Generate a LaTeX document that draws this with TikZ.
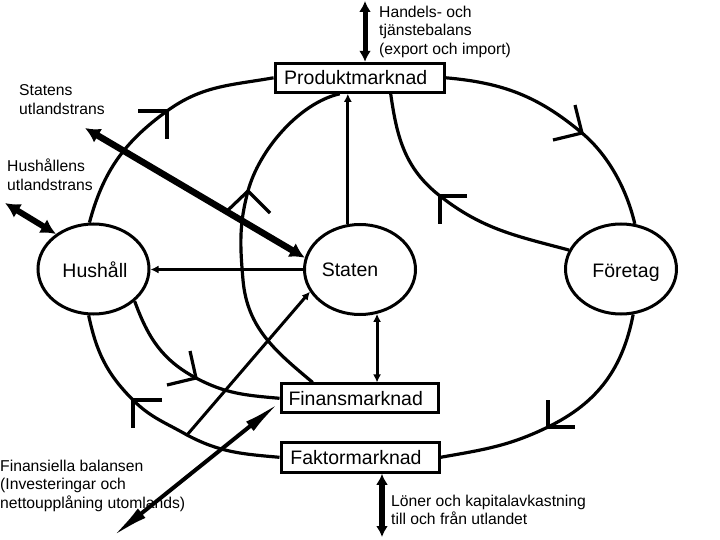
\documentclass[tikz,border=0pt]{standalone}
\usepackage{fontspec}
\setmainfont{Liberation Sans}
\usetikzlibrary{shapes.geometric,arrows.meta,calc}
\begin{document}
\begin{tikzpicture}[x=1pt,y=1pt,
  box/.style={draw, line width=3pt, rectangle, minimum width=169.3pt, minimum height=29pt,
    inner sep=0pt, font={\fontsize{19.5pt}{23pt}\selectfont}, execute at end node={\hspace*{8pt}}},
  ell/.style={draw, line width=3pt, ellipse, minimum width=111pt, minimum height=90pt, inner sep=0pt},
  lbl/.style={inner sep=0pt, font={\fontsize{19.5pt}{23pt}\selectfont}, text height=14pt, text depth=0pt},
  note/.style={inner sep=0pt, anchor=north west, align=left, font={\fontsize{15.7pt}{18.7pt}\selectfont}},
  flow/.style={line width=3.2pt},
  barb/.style={line width=3.2pt},
  sarrow/.style={line width=3pt, -{Latex[length=8pt,width=8pt]}},
  darrow/.style={line width=3pt, {Latex[length=8pt,width=8pt]}-{Latex[length=8pt,width=8pt]}},
  bigarrow/.style={line width=6.5pt, {Latex[length=15pt,width=16pt]}-{Latex[length=15pt,width=16pt]}},
  midarrow/.style={line width=5pt, {Latex[length=11pt,width=12pt]}-{Latex[length=11pt,width=12pt]}},
  longarrow/.style={line width=4pt, {Latex[length=38pt,width=12pt]}-{Latex[length=38pt,width=12pt]}}
]
\useasboundingbox (0,-540) rectangle (720,0);

% markets
\node[box] (pm) at (359.7,-77.8) {Produktmarknad};
\node[box, minimum width=157.3pt, minimum height=28.7pt] (fm) at (359.7,-398.3) {Finansmarknad};
\node[box, minimum width=158pt, minimum height=30pt] (fk) at (360,-457.3) {Faktormarknad};

% sectors
\node[ell] (hh) at (93.5,-269) {};
\node[ell] (st) at (360,-269.5) {};
\node[ell] (ft) at (621,-269) {};
\node[lbl] (hht) at (95,-270) {Hushåll};
\node[lbl] (stt) at (350,-269.5) {Staten};
\node[lbl] (ftt) at (626,-270) {Företag};

% arrow-mark points on the circuits
\coordinate (mA) at (167,-111);
\coordinate (mB) at (582,-133);
\coordinate (mC) at (440,-196);
\coordinate (mD) at (248,-191);
\coordinate (dM) at (243,-280);
\coordinate (mE) at (196,-378);
\coordinate (mF) at (133,-400);
\coordinate (mG) at (548,-427);
\coordinate (fA) at (187,-435);
\coordinate (cS) at ($(pm.south)+(31,0)$);
\coordinate (dS) at ($(pm.south)+(-20,0)$);
\coordinate (dE) at ($(fm.north)+(-47,0)$);

% circuits
\draw[flow] (hh.95) to[out=75,in=216] (mA) to[out=36,in=190] (pm.west);
\draw[flow] (pm.east) to[out=-5,in=140] (mB) to[out=-40,in=103,looseness=0.85] (ft.73);
\draw[flow] (cS) to[out=-82,in=142] (mC) to[out=-38,in=165] (ft.160);
\draw[flow] (dS) to[out=193,in=75,looseness=0.8] (mD) to[out=-105,in=95] (dM) to[out=-85,in=140] (dE);
\draw[flow] (hh.322) to[out=-70,in=152] (mE) to[out=-28,in=175] (fm.west);
\draw[flow] (hh.264) to[out=-78,in=135] (mF) to[out=-45,in=150] (fA) to[out=-28,in=175] (fk.west);
\draw[flow] (ft.285) to[out=259,in=26] (mG) to[out=206,in=10] (fk.east);

% open arrow heads on the circuits
\draw[barb] (mA) ++(-29,0) -- (mA) -- ++(0,-28);
\draw[barb] (mB) ++(-7,28) -- (mB) -- ++(-29,-7);
\draw[barb] (mC) ++(27,0) -- (mC) -- ++(0,-28);
\draw[barb] (mD) ++(-23,-22) -- (mD) -- ++(22,-22);
\draw[barb] (mE) ++(-6,27) -- (mE) -- ++(-29,-7);
\draw[barb] (mF) ++(29,0) -- (mF) -- ++(0,-28);
\draw[barb] (mG) ++(0,27) -- (mG) -- ++(27,0);

% flows between sectors
\draw[sarrow] (st.west) -- (st.west -| hh.east);
\draw[sarrow] (st.105) -- (st.105 |- pm.south);
\draw[darrow] (st.291) -- (st.291 |- fm.north);
\draw[sarrow] (fA) -- (st.204);

% flows to and from abroad
\coordinate (hT) at (365,-1);
\coordinate (lB) at (382,-537);
\coordinate (sF) at (85,-128);
\coordinate (hF) at (5,-203);
\coordinate (fF) at (112,-537);
\draw[midarrow] (hT) -- (hT |- pm.north);
\draw[midarrow, line width=6pt] (lB |- fk.south) -- (lB);
\draw[bigarrow] (sF) -- (st.168);
\draw[bigarrow, line width=6pt] (hF) -- (hh.137);
\draw[longarrow] (fF) -- (fm.183);

% notes
\node[note] (tH) at (379,-5.7) {Handels- och\\tjänstebalans\\(export och import)};
\node[note] (tS) at (19,-84.7) {Statens\\utlandstrans};
\node[note] (tU) at (7,-158.7) {Hushållens\\utlandstrans};
\node[note] (tF) at (0,-459.7) {Finansiella balansen\\(Investeringar och\\nettoupplåning utomlands)};
\node[note] (tL) at (391,-494.7) {Löner och kapitalavkastning\\till och från utlandet};
\end{tikzpicture}
\end{document}
